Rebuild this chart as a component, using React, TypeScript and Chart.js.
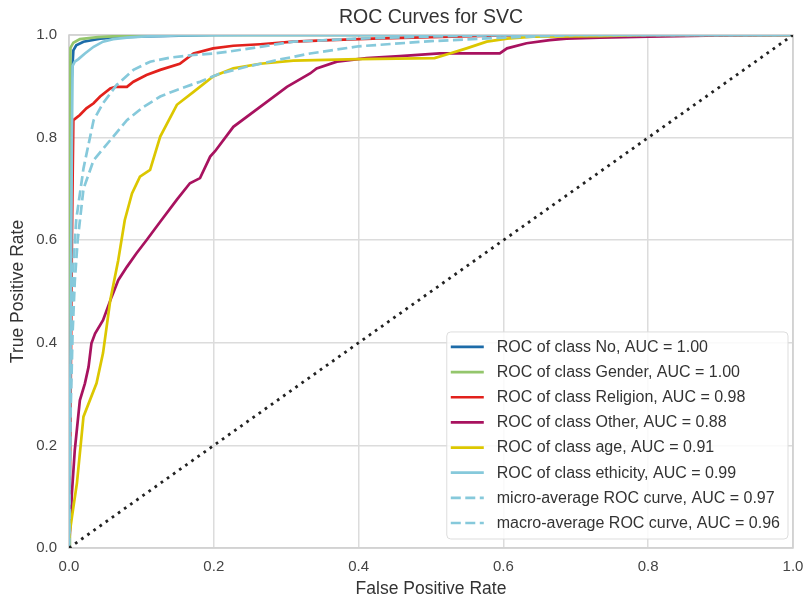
import React, { useEffect, useRef } from "react";
import { Chart, registerables } from "chart.js";

Chart.register(...registerables);

const chartTitle = "ROC Curves for SVC";
const xAxisTitle = "False Positive Rate";
const yAxisTitle = "True Positive Rate";
const tickValues = [0, 0.2, 0.4, 0.6, 0.8, 1.0];

const noLabel = "ROC of class No, AUC = 1.00";
const noFpr = [0, 0.001, 0.003, 0.005, 0.006, 0.01, 0.02, 0.043, 0.07, 0.12, 0.2, 1];
const noTpr = [0, 0.6, 0.9, 0.945, 0.97, 0.98, 0.987, 0.993, 0.996, 0.998, 1, 1];

const genderLabel = "ROC of class Gender, AUC = 1.00";
const genderFpr = [0, 0.001, 0.002, 0.006, 0.015, 0.04, 0.1, 1];
const genderTpr = [0, 0.7, 0.975, 0.985, 0.992, 0.996, 1, 1];

const religionLabel = "ROC of class Religion, AUC = 0.98";
const religionFpr = [0, 0.002, 0.004, 0.005, 0.006, 0.015, 0.024, 0.034, 0.043, 0.057, 0.064, 0.08, 0.089, 0.107, 0.126, 0.153, 0.172, 0.199, 0.227, 0.264, 0.31, 0.36, 0.42, 0.5, 0.6, 0.7, 1];
const religionTpr = [0, 0.25, 0.6, 0.72, 0.834, 0.844, 0.857, 0.867, 0.88, 0.896, 0.899, 0.899, 0.909, 0.922, 0.932, 0.944, 0.964, 0.974, 0.979, 0.982, 0.987, 0.99, 0.993, 0.996, 0.999, 1, 1];

const otherLabel = "ROC of class Other, AUC = 0.88";
const otherFpr = [0, 0.002, 0.004, 0.008, 0.015, 0.022, 0.027, 0.031, 0.036, 0.047, 0.059, 0.068, 0.08, 0.093, 0.107, 0.126, 0.149, 0.167, 0.181, 0.195, 0.202, 0.227, 0.264, 0.301, 0.333, 0.342, 0.37, 0.411, 0.457, 0.512, 0.595, 0.605, 0.632, 0.664, 0.687, 0.733, 0.8, 0.9, 1];
const otherTpr = [0, 0.05, 0.107, 0.191, 0.288, 0.321, 0.353, 0.399, 0.418, 0.444, 0.49, 0.522, 0.548, 0.574, 0.6, 0.636, 0.679, 0.711, 0.721, 0.763, 0.774, 0.821, 0.86, 0.899, 0.925, 0.935, 0.948, 0.955, 0.959, 0.964, 0.964, 0.974, 0.984, 0.99, 0.993, 0.995, 0.997, 0.999, 1];

const ageLabel = "ROC of class age, AUC = 0.91";
const ageFpr = [0, 0.001, 0.004, 0.011, 0.02, 0.038, 0.047, 0.057, 0.068, 0.077, 0.087, 0.098, 0.112, 0.126, 0.149, 0.172, 0.199, 0.227, 0.264, 0.31, 0.4, 0.505, 0.526, 0.549, 0.577, 0.605, 0.641, 0.733, 0.8, 1];
const ageTpr = [0, 0.03, 0.06, 0.127, 0.256, 0.321, 0.38, 0.483, 0.561, 0.639, 0.691, 0.724, 0.737, 0.802, 0.864, 0.889, 0.919, 0.935, 0.944, 0.95, 0.953, 0.955, 0.964, 0.974, 0.987, 0.993, 0.997, 0.998, 1, 1];

const ethicityLabel = "ROC of class ethicity, AUC = 0.99";
const ethicityFpr = [0, 0.002, 0.004, 0.005, 0.008, 0.013, 0.022, 0.034, 0.047, 0.061, 0.08, 0.1, 0.15, 0.25, 1];
const ethicityTpr = [0, 0.35, 0.8, 0.94, 0.948, 0.953, 0.964, 0.977, 0.987, 0.992, 0.995, 0.997, 0.999, 1, 1];

const microLabel = "micro-average ROC curve, AUC = 0.97";
const microFpr = [0, 0.002, 0.004, 0.006, 0.01, 0.02, 0.034, 0.047, 0.066, 0.089, 0.112, 0.14, 0.172, 0.199, 0.218, 0.264, 0.31, 0.4, 0.5, 0.6, 1];
const microTpr = [0, 0.3, 0.45, 0.55, 0.64, 0.74, 0.834, 0.867, 0.903, 0.932, 0.948, 0.956, 0.961, 0.964, 0.967, 0.977, 0.987, 0.993, 0.997, 1, 1];

const macroLabel = "macro-average ROC curve, AUC = 0.96";
const macroFpr = [0, 0.002, 0.005, 0.008, 0.012, 0.02, 0.034, 0.057, 0.08, 0.103, 0.126, 0.149, 0.181, 0.209, 0.245, 0.287, 0.333, 0.4, 0.5, 0.6, 0.7, 1];
const macroTpr = [0, 0.25, 0.42, 0.52, 0.6, 0.7, 0.756, 0.795, 0.834, 0.86, 0.88, 0.893, 0.909, 0.925, 0.938, 0.951, 0.964, 0.978, 0.988, 0.995, 1, 1];

const diagonalFpr = [0, 1];
const diagonalTpr = [0, 1];

const FONT = '"Liberation Sans", Arial, sans-serif';

function pts(xs: number[], ys: number[]) {
  return xs.map((x, i) => ({ x, y: ys[i] }));
}

const series = [
  { label: noLabel, fpr: noFpr, tpr: noTpr, color: "#1c6ba8", dash: [] as number[] },
  { label: genderLabel, fpr: genderFpr, tpr: genderTpr, color: "#94c66c", dash: [] as number[] },
  { label: religionLabel, fpr: religionFpr, tpr: religionTpr, color: "#e2211c", dash: [] as number[] },
  { label: otherLabel, fpr: otherFpr, tpr: otherTpr, color: "#a8125f", dash: [] as number[] },
  { label: ageLabel, fpr: ageFpr, tpr: ageTpr, color: "#dcc700", dash: [] as number[] },
  { label: ethicityLabel, fpr: ethicityFpr, tpr: ethicityTpr, color: "#86c9db", dash: [] as number[] },
  { label: microLabel, fpr: microFpr, tpr: microTpr, color: "#86c9db", dash: [10, 4.5] },
  { label: macroLabel, fpr: macroFpr, tpr: macroTpr, color: "#86c9db", dash: [10, 4.5] },
];

const customPlugin = {
  id: "frameTitleLegend",
  beforeDatasetsDraw(chart: any) {
    const { ctx, chartArea: a } = chart;
    ctx.save();
    ctx.strokeStyle = "#cfcfcf";
    ctx.lineWidth = 1.5;
    ctx.strokeRect(a.left, a.top, a.right - a.left, a.bottom - a.top);
    ctx.restore();
  },
  afterDraw(chart: any) {
    const { ctx, chartArea: a } = chart;
    ctx.save();
    // title
    ctx.font = `19.5px ${FONT}`;
    ctx.fillStyle = "#333333";
    ctx.textAlign = "center";
    ctx.textBaseline = "middle";
    ctx.fillText(chartTitle, (a.left + a.right) / 2, 17.5);

    // legend
    ctx.font = `16px ${FONT}`;
    let maxW = 0;
    series.forEach((s) => {
      maxW = Math.max(maxW, ctx.measureText(s.label).width);
    });
    const rowH = 25.15;
    const boxW = 50 + maxW + 8;
    const boxH = 15 + rowH * (series.length - 1) + 16;
    const right = a.right - 5;
    const bottom = a.bottom - 9;
    const left = right - boxW;
    const top = bottom - boxH;
    ctx.beginPath();
    const r = 4;
    ctx.moveTo(left + r, top);
    ctx.lineTo(right - r, top);
    ctx.quadraticCurveTo(right, top, right, top + r);
    ctx.lineTo(right, bottom - r);
    ctx.quadraticCurveTo(right, bottom, right - r, bottom);
    ctx.lineTo(left + r, bottom);
    ctx.quadraticCurveTo(left, bottom, left, bottom - r);
    ctx.lineTo(left, top + r);
    ctx.quadraticCurveTo(left, top, left + r, top);
    ctx.closePath();
    ctx.fillStyle = "rgba(255,255,255,0.85)";
    ctx.fill();
    ctx.strokeStyle = "#dddddd";
    ctx.lineWidth = 1;
    ctx.stroke();

    series.forEach((s, i) => {
      const y = top + 15 + i * rowH;
      ctx.beginPath();
      ctx.setLineDash(s.dash);
      ctx.strokeStyle = s.color;
      ctx.lineWidth = 2.7;
      ctx.moveTo(left + 4, y);
      ctx.lineTo(left + 37, y);
      ctx.stroke();
      ctx.setLineDash([]);
      ctx.fillStyle = "#333333";
      ctx.textAlign = "left";
      ctx.textBaseline = "middle";
      ctx.fillText(s.label, left + 50, y + 0.5);
    });
    ctx.restore();
  },
};

export default function App() {
  const canvasRef = useRef<HTMLCanvasElement | null>(null);

  useEffect(() => {
    document.body.style.margin = "0";
    const canvas = canvasRef.current;
    if (!canvas) return;
    const n = series.length;
    const datasets: any[] = series.map((s, i) => ({
      label: s.label,
      data: pts(s.fpr, s.tpr),
      borderColor: s.color,
      backgroundColor: s.color,
      borderWidth: 2.7,
      borderDash: s.dash,
      showLine: true,
      pointRadius: 0,
      pointHoverRadius: 0,
      tension: 0,
      fill: false,
      order: n + 1 - i,
    }));
    datasets.push({
      label: "",
      data: pts(diagonalFpr, diagonalTpr),
      borderColor: "#222222",
      borderWidth: 2.8,
      borderDash: [2.7, 4.8],
      showLine: true,
      pointRadius: 0,
      tension: 0,
      fill: false,
      order: 0,
    });

    const tickFont = { family: FONT, size: 15 };
    const chart = new Chart(canvas, {
      type: "scatter",
      data: { datasets },
      options: {
        responsive: false,
        animation: false,
        devicePixelRatio: 1,
        layout: { padding: { left: 0, right: 15, top: 35, bottom: 0 } },
        plugins: {
          legend: { display: false },
          title: { display: false },
          tooltip: { enabled: false },
        },
        scales: {
          x: {
            type: "linear",
            min: 0,
            max: 1,
            afterFit: (scale: any) => {
              scale.height = 52;
              scale.paddingRight = 0;
              scale.paddingLeft = 0;
            },
            afterBuildTicks: (scale: any) => {
              scale.ticks = tickValues.map((v) => ({ value: v }));
            },
            ticks: {
              font: tickFont,
              color: "#444444",
              padding: 10,
              maxRotation: 0,
              callback: (v: any) => Number(v).toFixed(1),
            },
            grid: { color: "#dcdcdc", lineWidth: 1.5, drawTicks: false },
            border: { display: false },
            title: {
              display: true,
              text: xAxisTitle,
              font: { family: FONT, size: 17.5 },
              color: "#333333",
              padding: { top: 0, bottom: 0 },
            },
          },
          y: {
            type: "linear",
            min: 0,
            max: 1,
            afterFit: (scale: any) => {
              scale.width = 69;
              scale.paddingTop = 0;
              scale.paddingBottom = 0;
            },
            afterBuildTicks: (scale: any) => {
              scale.ticks = tickValues.map((v) => ({ value: v }));
            },
            ticks: {
              font: tickFont,
              color: "#444444",
              padding: 12,
              callback: (v: any) => Number(v).toFixed(1),
            },
            grid: { color: "#dcdcdc", lineWidth: 1.5, drawTicks: false },
            border: { display: false },
            title: {
              display: true,
              text: yAxisTitle,
              font: { family: FONT, size: 17.5 },
              color: "#333333",
              padding: { top: 8, bottom: 0 },
            },
          },
        },
      },
      plugins: [customPlugin],
    } as any);
    return () => chart.destroy();
  }, []);

  return (
    <div style={{ width: 808, height: 600, background: "#ffffff" }}>
      <canvas ref={canvasRef} width={808} height={600} />
    </div>
  );
}
